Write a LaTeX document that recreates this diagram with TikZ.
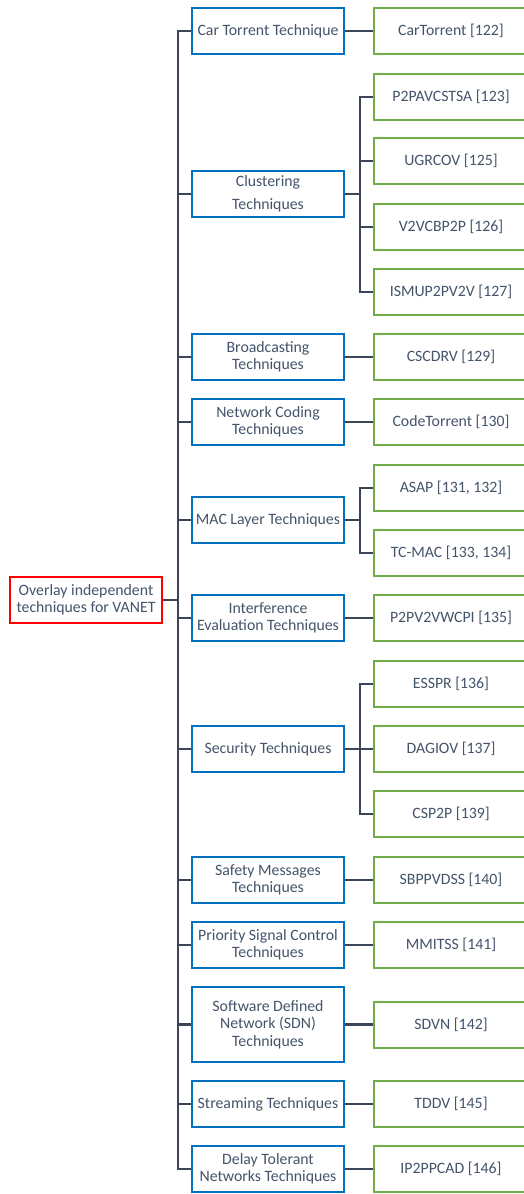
\documentclass[tikz,border=0pt]{standalone}
\usepackage{fontspec}
\setmainfont{Carlito}
\definecolor{txt}{HTML}{44546A}
\definecolor{bblue}{HTML}{0070C0}
\definecolor{lgreen}{HTML}{70AD47}
\definecolor{rred}{HTML}{FF0000}
\definecolor{lnk}{HTML}{3B4658}
\begin{document}
\begin{tikzpicture}[x=1pt,y=-1pt,
  base/.style={draw, line width=2pt, fill=white, align=center, text=txt,
    font=\fontsize{15.8}{17.5}\selectfont, inner sep=1pt, minimum height=46pt},
  cat/.style={base, draw=bblue, minimum width=152pt},
  leaf/.style={base, draw=lgreen, minimum width=154pt},
  rootbox/.style={base, draw=rred, minimum width=152pt},
  link/.style={draw=lnk, line width=2.8pt}]
\path[use as bounding box] (0,0) rectangle (524,1194);
\clip (0,0) rectangle (524,1194);
\fill[white] (0,0) rectangle (524,1194);

% root
\node[rootbox] (root) at (86,600) {Overlay independent\\techniques for VANET};

% categories
\node[cat] (c1) at (268,31) {Car Torrent Technique};
\node[cat] (c2) at (268,194) {Clustering\\[5.5pt]Techniques};
\node[cat] (c3) at (268,357) {Broadcasting\\Techniques};
\node[cat] (c4) at (268,422) {Network Coding\\Techniques};
\node[cat] (c5) at (268,520) {MAC Layer Techniques};
\node[cat] (c6) at (268,618) {Interference\\Evaluation Techniques};
\node[cat] (c7) at (268,749) {Security Techniques};
\node[cat] (c8) at (268,880) {Safety Messages\\Techniques};
\node[cat] (c9) at (268,945) {Priority Signal Control\\Techniques};
\node[cat, minimum height=75pt] (c10) at (268,1024.5) {Software Defined\\Network (SDN)\\Techniques};
\node[cat] (c11) at (268,1104) {Streaming Techniques};
\node[cat] (c12) at (268,1169) {Delay Tolerant\\Networks Techniques};

% leaves
\node[leaf] (l1) at (451,31) {CarTorrent [122]};
\node[leaf] (l2a) at (451,97) {P2PAVCSTSA [123]};
\node[leaf] (l2b) at (451,161) {UGRCOV [125]};
\node[leaf] (l2c) at (451,227) {V2VCBP2P [126]};
\node[leaf] (l2d) at (451,292) {ISMUP2PV2V [127]};
\node[leaf] (l3) at (451,357) {CSCDRV [129]};
\node[leaf] (l4) at (451,422) {CodeTorrent [130]};
\node[leaf] (l5a) at (451,488) {ASAP [131, 132]};
\node[leaf] (l5b) at (451,553) {TC-MAC [133, 134]};
\node[leaf] (l6) at (451,618) {P2PV2VWCPI [135]};
\node[leaf] (l7a) at (451,684) {ESSPR [136]};
\node[leaf] (l7b) at (451,749) {DAGIOV [137]};
\node[leaf] (l7c) at (451,814) {CSP2P [139]};
\node[leaf] (l8) at (451,880) {SBPPVDSS [140]};
\node[leaf] (l9) at (451,945) {MMITSS [141]};
\node[leaf] (l10) at (451,1024.5) {SDVN [142]};
\node[leaf] (l11) at (451,1104) {TDDV [145]};
\node[leaf] (l12) at (451,1169) {IP2PPCAD [146]};

% connectors root -> categories
\foreach \c in {c1,c2,c3,c4,c5,c6,c7,c8,c9,c10,c11,c12}
  \draw[link] (root.east) -- ++(15,0) |- (\c.west);
% categories -> leaves
\foreach \c/\l in {c1/l1,c2/l2a,c2/l2b,c2/l2c,c2/l2d,c3/l3,c4/l4,c5/l5a,c5/l5b,
                   c6/l6,c7/l7a,c7/l7b,c7/l7c,c8/l8,c9/l9,c10/l10,c11/l11,c12/l12}
  \draw[link] (\c.east) -- ++(15,0) |- (\l.west);
\end{tikzpicture}
\end{document}
